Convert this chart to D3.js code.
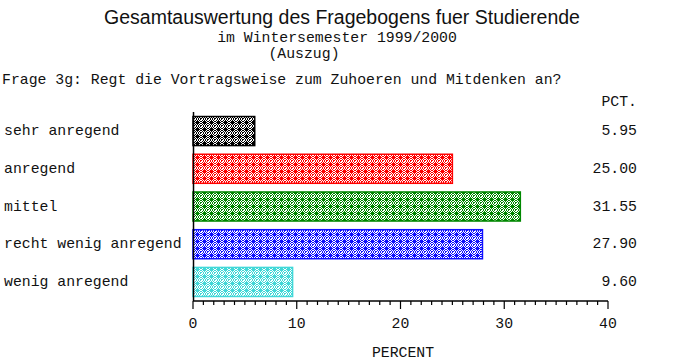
<!DOCTYPE html>
<html>
<head>
<meta charset="utf-8">
<script src="https://cdn.jsdelivr.net/npm/d3@7"></script>
<style>
  body { margin: 0; background: #fff; }
  text { fill: #111; }
  .mono { font-family: "Liberation Mono", "Courier New", monospace; font-size: 14.8px; }
</style>
</head>
<body>
<div id="chart"></div>
<script>
// categories, values and bar colours
var categories = ["sehr anregend", "anregend", "mittel", "recht wenig anregend", "wenig anregend"];
var values = [5.95, 25.00, 31.55, 27.90, 9.60];
var colors = ["#000000", "#ff0000", "#008800", "#1010ff", "#40d8d8"];
var xTicks = [0, 10, 20, 30, 40];

var svgWidth = 685;
var svgHeight = 364;

var svg = d3.select("#chart")
  .append("svg")
  .attr("width", svgWidth)
  .attr("height", svgHeight);

// scales
var xScale = d3.scaleLinear().domain([0, 40]).range([193, 608]);
var yScale = d3.scaleBand()
  .domain(categories)
  .range([112, 301])
  .paddingInner(0.23)
  .paddingOuter(0.12);

// fill patterns: 1px checker with solid dots
var defs = svg.append("defs");
colors.forEach(function(c, i) {
  var p = defs.append("pattern")
    .attr("id", "pat" + i)
    .attr("patternUnits", "userSpaceOnUse")
    .attr("width", 7)
    .attr("height", 7)
    .attr("x", 194)
    .attr("y", 0);
  p.append("rect").attr("width", 7).attr("height", 7).attr("fill", "#fff");
  for (var yy = 0; yy < 7; yy++) {
    for (var xx = 0; xx < 7; xx++) {
      if ((xx + yy) % 2 === 0) {
        p.append("rect").attr("x", xx).attr("y", yy).attr("width", 1).attr("height", 1)
          .attr("fill", c).attr("shape-rendering", "crispEdges");
      }
    }
  }
  p.append("rect").attr("x", 2).attr("y", 2).attr("width", 3).attr("height", 3)
    .attr("fill", c).attr("shape-rendering", "crispEdges");
  p.append("rect").attr("x", 0).attr("y", 0).attr("width", 1).attr("height", 1)
    .attr("fill", "#fff");
});

// titles
svg.append("text")
  .attr("x", 342).attr("y", 24)
  .attr("text-anchor", "middle")
  .style("font-family", "'Liberation Sans', Arial, sans-serif")
  .style("font-size", "19.5px")
  .text("Gesamtauswertung des Fragebogens fuer Studierende");

svg.append("text").attr("class", "mono")
  .attr("x", 337).attr("y", 42)
  .attr("text-anchor", "middle")
  .text("im Wintersemester 1999/2000");

svg.append("text").attr("class", "mono")
  .attr("x", 304).attr("y", 58)
  .attr("text-anchor", "middle")
  .text("(Auszug)");

svg.append("text").attr("class", "mono")
  .attr("x", 2).attr("y", 84)
  .text("Frage 3g: Regt die Vortragsweise zum Zuhoeren und Mitdenken an?");

svg.append("text").attr("class", "mono")
  .attr("x", 637).attr("y", 106)
  .attr("text-anchor", "end")
  .text("PCT.");

// bars
svg.selectAll("rect.bar")
  .data(values)
  .enter()
  .append("rect")
  .attr("class", "bar")
  .attr("x", xScale(0))
  .attr("y", (d, i) => yScale(categories[i]))
  .attr("width", d => xScale(d) - xScale(0))
  .attr("height", yScale.bandwidth())
  .attr("fill", (d, i) => "url(#pat" + i + ")")
  .attr("stroke", (d, i) => colors[i])
  .attr("stroke-width", 1.5);

// category labels
svg.selectAll("text.cat")
  .data(categories)
  .enter()
  .append("text")
  .attr("class", "mono cat")
  .attr("x", 4)
  .attr("y", d => yScale(d) + yScale.bandwidth() / 2 + 4)
  .text(d => d);

// value labels
svg.selectAll("text.val")
  .data(values)
  .enter()
  .append("text")
  .attr("class", "mono val")
  .attr("x", 637)
  .attr("text-anchor", "end")
  .attr("y", (d, i) => yScale(categories[i]) + yScale.bandwidth() / 2 + 4)
  .text(d => d.toFixed(2));

// vertical axis line
svg.append("line")
  .attr("x1", 193.5).attr("x2", 193.5)
  .attr("y1", 112).attr("y2", 301)
  .attr("stroke", "#000").attr("stroke-width", 1.5);

// x axis with minor ticks
var axisG = svg.append("g").attr("transform", "translate(0,301)");
axisG.append("line")
  .attr("x1", xScale(0)).attr("x2", xScale(40))
  .attr("y1", 0).attr("y2", 0)
  .attr("stroke", "#000").attr("stroke-width", 1.5);

axisG.selectAll("line.minor")
  .data(d3.range(0, 41))
  .enter()
  .append("line")
  .attr("x1", d => xScale(d)).attr("x2", d => xScale(d))
  .attr("y1", 0).attr("y2", d => d % 10 === 0 ? 8 : 4)
  .attr("stroke", "#000").attr("stroke-width", 1.2);

axisG.selectAll("text.tick")
  .data(xTicks)
  .enter()
  .append("text")
  .attr("class", "mono tick")
  .attr("x", d => xScale(d))
  .attr("y", 27)
  .attr("text-anchor", "middle")
  .text(d => d);

svg.append("text").attr("class", "mono")
  .attr("x", 403).attr("y", 357)
  .attr("text-anchor", "middle")
  .text("PERCENT");
</script>
</body>
</html>
